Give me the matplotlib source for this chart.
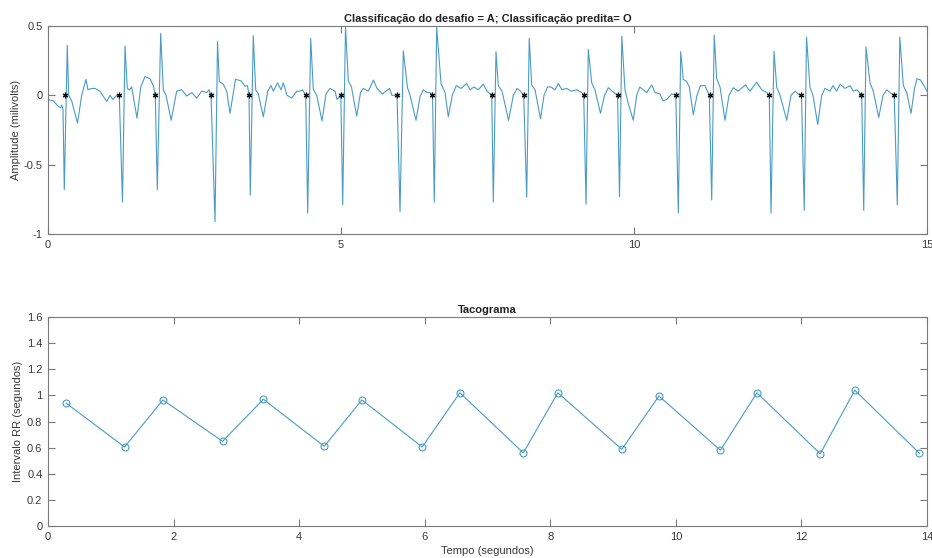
import matplotlib
matplotlib.use("Agg")
import matplotlib.pyplot as plt

# ---------------- data ----------------
ecg_time = [
    0.000, 0.090, 0.176, 0.217, 0.234, 0.256, 0.278, 0.329, 0.353, 0.404, 0.503, 0.575, 0.648, 0.683, 0.746, 0.800, 0.887, 1.002, 1.058, 1.109, 1.172, 1.217,
    1.271, 1.314, 1.353, 1.391, 1.428, 1.519, 1.582, 1.655, 1.741, 1.797, 1.831,
    1.865, 1.923, 1.968, 2.014, 2.102, 2.196, 2.282, 2.367, 2.452, 2.538, 2.623, 2.708, 2.748, 2.782,
    2.850, 2.893, 2.923, 2.992, 3.049, 3.106, 3.200, 3.294, 3.362, 3.404, 3.430,
    3.452, 3.503, 3.544, 3.589, 3.674, 3.749, 3.806, 3.845, 3.917, 3.976, 4.015, 4.079, 4.159, 4.244, 4.300, 4.343, 4.398,
    4.432, 4.483, 4.527, 4.585, 4.676, 4.744, 4.812, 4.898, 4.932, 4.997,
    5.029, 5.077, 5.125, 5.179, 5.268, 5.333, 5.381, 5.466, 5.555, 5.614, 5.708, 5.828, 5.870, 5.956,
    6.007, 6.063, 6.135, 6.178, 6.280, 6.348, 6.405, 6.468, 6.519, 6.562,
    6.592, 6.633, 6.707, 6.775, 6.831, 6.899, 6.967, 7.048, 7.145, 7.202, 7.270, 7.343, 7.428, 7.492, 7.572,
    7.599, 7.645, 7.684, 7.748, 7.859, 7.941, 8.004, 8.063, 8.118,
    8.169, 8.212, 8.254, 8.311, 8.405, 8.464, 8.524, 8.584, 8.652, 8.709, 8.771, 8.851, 8.925, 9.022, 9.108, 9.142,
    9.181, 9.220, 9.278, 9.334, 9.428, 9.497, 9.562, 9.625, 9.719,
    9.753, 9.792, 9.846, 9.903, 9.988, 10.046, 10.098, 10.159, 10.217, 10.302, 10.359, 10.444, 10.495, 10.558, 10.643, 10.713,
    10.756, 10.797, 10.841, 10.899, 10.944, 11.012, 11.075, 11.135, 11.212, 11.285,
    11.326, 11.369, 11.411, 11.468, 11.553, 11.621, 11.695, 11.775, 11.903, 11.979, 12.094, 12.179, 12.265, 12.309,
    12.338, 12.389, 12.435, 12.492, 12.606, 12.679, 12.748, 12.804, 12.858,
    12.905, 12.944, 13.003, 13.054, 13.135, 13.203, 13.259, 13.344, 13.395, 13.458, 13.516, 13.601, 13.687, 13.743, 13.806, 13.886,
    13.920, 13.959, 14.027, 14.084, 14.176, 14.249, 14.313, 14.369, 14.441,
    14.493, 14.536, 14.596, 14.654, 14.727, 14.787, 14.830, 14.889, 14.949, 15.000,
]
ecg_amp = [
    -0.03, -0.04, -0.08, -0.09, -0.07, -0.10, -0.68, 0.36, 0.0, -0.04, -0.20, 0.0, 0.115, 0.04, 0.05, 0.05, 0.03, -0.045, 0.0, -0.03, 0.0, -0.01,
    -0.77, 0.356, 0.05, 0.04, 0.06, -0.165, 0.06, 0.135, 0.12, 0.07, 0.0,
    -0.68, 0.447, 0.04, 0.0, -0.18, 0.03, 0.04, -0.005, 0.02, -0.02, 0.03, 0.02, 0.04, 0.0,
    -0.91, 0.387, 0.10, 0.08, 0.03, -0.13, 0.115, 0.105, 0.065, 0.07, 0.0,
    -0.72, 0.43, 0.04, 0.01, -0.155, 0.03, 0.07, 0.03, 0.09, 0.04, 0.09, 0.0, -0.02, 0.03, 0.03, 0.04, 0.0,
    -0.85, 0.41, 0.045, 0.0, -0.185, 0.01, 0.05, 0.03, -0.03, 0.0,
    -0.79, 0.495, 0.105, 0.06, -0.15, 0.02, 0.05, 0.03, 0.11, 0.05, 0.01, 0.05, 0.0, 0.0,
    -0.84, 0.32, 0.055, 0.0, -0.18, -0.01, 0.04, 0.02, 0.02, 0.0,
    -0.77, 0.49, 0.085, 0.02, -0.155, 0.0, 0.07, 0.05, 0.085, 0.04, 0.06, 0.04, 0.08, 0.03, 0.0,
    -0.77, 0.315, 0.07, 0.03, -0.18, 0.0, 0.05, 0.03, 0.0,
    -0.735, 0.41, 0.075, 0.04, -0.17, 0.0, 0.06, 0.06, 0.04, 0.085, 0.04, 0.05, 0.03, 0.04, 0.02, 0.0,
    -0.785, 0.33, 0.09, 0.04, -0.13, 0.0, 0.055, 0.03, 0.0,
    -0.73, 0.425, 0.04, -0.06, -0.18, 0.0, 0.06, 0.04, 0.02, 0.075, 0.02, 0.01, -0.04, -0.03, 0.01, 0.0,
    -0.85, 0.315, 0.115, 0.10, 0.06, -0.14, 0.0, 0.07, 0.07, 0.0,
    -0.755, 0.435, 0.12, 0.06, -0.18, 0.0, 0.055, 0.03, 0.075, 0.03, 0.095, 0.04, 0.02, 0.0,
    -0.85, 0.318, 0.06, 0.0, -0.18, 0.0, 0.03, 0.01, 0.0,
    -0.83, 0.42, 0.06, 0.0, -0.21, 0.0, 0.05, 0.03, 0.07, 0.03, 0.08, 0.05, 0.07, 0.03, 0.04, 0.0,
    -0.83, 0.35, 0.09, 0.03, -0.16, 0.0, 0.04, 0.02, 0.0,
    -0.79, 0.42, 0.07, 0.02, -0.13, 0.05, 0.12, 0.11, 0.07, 0.03,
]
assert len(ecg_time) == len(ecg_amp)

peak_times = [0.29, 1.22, 1.83, 2.78, 3.43, 4.40, 5.00, 5.96, 6.56, 7.57,
              8.12, 9.14, 9.73, 10.71, 11.29, 12.30, 12.85, 13.88, 14.43]
peak_marks = [0.0] * len(peak_times)

tach_time = peak_times[:-1]
rr_interval = [0.94, 0.605, 0.965, 0.648, 0.97, 0.61, 0.965, 0.605, 1.02, 0.56,
               1.02, 0.587, 0.995, 0.58, 1.02, 0.553, 1.04, 0.556]

title_top = "Classificação do desafio = A; Classificação predita= O"
title_bottom = "Tacograma"
ylabel_top = "Amplitude (milivolts)"
ylabel_bottom = "Intervalo RR (segundos)"
xlabel_bottom = "Tempo (segundos)"

# ---------------- style ----------------
LINE = "#4a9bc6"
AXC = "#7a7a7a"
TXT = "#3a3a3a"
FS = 8

plt.rcParams["font.family"] = ["Liberation Sans", "DejaVu Sans"]

fig = plt.figure(figsize=(9.32, 5.58), dpi=100)
ax1 = fig.add_axes([48 / 932, 1 - 234 / 558, (927 - 48) / 932, (234 - 26) / 558])
ax2 = fig.add_axes([48 / 932, 1 - 526 / 558, (927 - 48) / 932, (526 - 317) / 558])


def style(ax):
    for s in ax.spines.values():
        s.set_color(AXC)
        s.set_linewidth(0.8)
    ax.tick_params(direction="in", length=5, width=0.8, color=AXC,
                   labelcolor=TXT, labelsize=FS, top=True, right=True, pad=4)


ax1.plot(ecg_time, ecg_amp, color=LINE, lw=0.8)
ax1.plot(peak_times, peak_marks, linestyle="none", marker=(6, 2, 0),
         markersize=4, markeredgewidth=0.9, color="#111111")
ax1.set_xlim(0, 15)
ax1.set_ylim(-1, 0.5)
ax1.set_xticks([0, 5, 10, 15])
ax1.set_xticklabels(["0", "5", "10", "15"])
ax1.set_yticks([-1, -0.5, 0, 0.5])
ax1.set_yticklabels(["-1", "-0.5", "0", "0.5"])
ax1.set_title(title_top, fontsize=FS, fontweight="bold", color="#222222", pad=3)
ax1.set_ylabel(ylabel_top, fontsize=FS, color=TXT, labelpad=2)
style(ax1)

ax2.plot(tach_time, rr_interval, color=LINE, lw=0.8, marker="o",
         markersize=5, markerfacecolor="none", markeredgewidth=0.8)
ax2.set_xlim(0, 14)
ax2.set_ylim(0, 1.6)
ax2.set_xticks(range(0, 15, 2))
ax2.set_yticks([0, 0.2, 0.4, 0.6, 0.8, 1.0, 1.2, 1.4, 1.6])
ax2.set_yticklabels(["0", "0.2", "0.4", "0.6", "0.8", "1", "1.2", "1.4", "1.6"])
ax2.set_title(title_bottom, fontsize=FS, fontweight="bold", color="#222222", pad=3)
ax2.set_ylabel(ylabel_bottom, fontsize=FS, color=TXT, labelpad=3)
ax2.set_xlabel(xlabel_bottom, fontsize=FS, color=TXT, labelpad=3)
style(ax2)

fig.savefig("out.png", dpi=100, facecolor="white")
